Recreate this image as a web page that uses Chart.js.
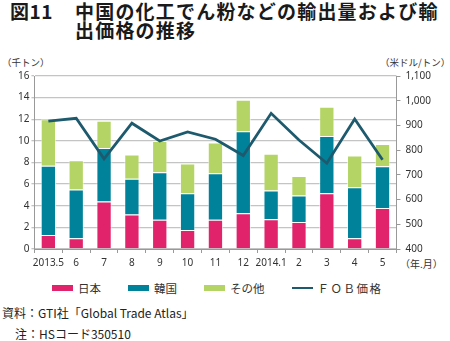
<!DOCTYPE html>
<html lang="ja">
<head>
<meta charset="utf-8">
<script src="https://cdn.jsdelivr.net/npm/chart.js@4.4.1/dist/chart.umd.min.js"></script>
<style>
  html, body { margin: 0; padding: 0; background: #fff; }
  body { width: 450px; height: 341px; position: relative; overflow: hidden;
         font-family: "Noto Sans CJK JP", "Noto Sans", sans-serif; color: #222; }
  .titulo { position: absolute; left: 10px; top: 1px; font-size: 19px; font-weight: bold;
            line-height: 19px; letter-spacing: 1.2px; color: #1a1a1a; }
  .titulo .num { position: absolute; left: 0; top: 0; white-space: nowrap; letter-spacing: 0.5px; }
  .titulo .txt { position: absolute; left: 65px; top: 0; width: 380px; }
  .eixo { position: absolute; font-size: 9.5px; color: #333; white-space: nowrap; }
  #legenda { position: absolute; left: 52px; top: 280px; display: flex; font-size: 11.5px; color: #333; }
  #legenda .item { display: flex; align-items: center; margin-right: 27px; }
  #legenda .sw { width: 21px; height: 6px; margin-right: 5px; }
  #legenda .ln { width: 21px; height: 2.5px; margin-right: 5px; }
  .nota { position: absolute; font-size: 12px; color: #222; white-space: nowrap; }
  #wrap { position: absolute; left: 0; top: 56px; width: 441px; height: 219px; }
</style>
</head>
<body>
<div class="titulo"><span class="num">図11</span><span class="txt">中国の化工でん粉などの輸出量および輸出価格の推移</span></div>
<div class="eixo" style="left:2px; top:55px;">（千トン）</div>
<div class="eixo" style="left:380px; top:55px;">（米ドル/トン）</div>
<div class="eixo" style="left:400px; top:256px; font-size:10px;">（年.月）</div>
<div id="wrap"><canvas id="grafico-exportacao"></canvas></div>
<div id="legenda"></div>
<div class="nota" style="left:2px; top:304px;">資料：GTI社「Global Trade Atlas」</div>
<div class="nota" style="left:15px; top:325px;">注：HSコード350510</div>

<script>
// dados (mil toneladas e US$/t)
const meses = ['2013.5', '6', '7', '8', '9', '10', '11', '12', '2014.1', '2', '3', '4', '5'];
const japao = [1.3, 1.0, 4.4, 3.2, 2.7, 1.75, 2.7, 3.3, 2.75, 2.5, 5.15, 1.0, 3.8];
const coreia = [6.4, 4.5, 4.95, 3.3, 4.4, 3.4, 4.3, 7.6, 2.65, 2.45, 5.3, 4.7, 3.85];
const outros = [4.3, 2.7, 2.5, 2.25, 2.9, 2.75, 2.85, 2.9, 3.4, 1.8, 2.7, 2.95, 2.05];
const precoFob = [917, 929, 765, 909, 837, 874, 844, 778, 949, 841, 747, 926, 761];

const cores = {
  japao: '#e0236b',
  coreia: '#00829a',
  outros: '#b4d566',
  fob: '#1e5a6e'
};

desenharGrafico();

function desenharGrafico() {
  const ctx = document.getElementById('grafico-exportacao');
  const fonteTick = { family: '"Noto Sans", sans-serif', size: 10 };

  const barra = (label, data, cor) => ({
    type: 'bar', label, data, backgroundColor: cor,
    borderColor: 'rgba(255,255,255,0.55)', borderWidth: 1,
    yAxisID: 'y', stack: 'total', order: 1,
    barPercentage: 0.55, categoryPercentage: 1
  });

  const chart = new Chart(ctx, {
    data: {
      labels: meses,
      datasets: [
        barra('日本', japao, cores.japao),
        barra('韓国', coreia, cores.coreia),
        barra('その他', outros, cores.outros),
        {
          type: 'line', label: 'ＦＯＢ価格', data: precoFob,
          borderColor: cores.fob, backgroundColor: cores.fob,
          borderWidth: 2.8, pointRadius: 0, tension: 0,
          yAxisID: 'y1', order: 0
        }
      ]
    },
    options: {
      responsive: true,
      maintainAspectRatio: false,
      animation: false,
      layout: { padding: { top: 20, left: 16, right: 5, bottom: 2 } },
      plugins: { legend: { display: false }, tooltip: { enabled: false } },
      scales: {
        x: {
          stacked: true,
          offset: true,
          grid: { offset: true, drawOnChartArea: false, drawTicks: true, tickLength: 4, color: '#999' },
          border: { color: '#999' },
          ticks: { font: fonteTick, color: '#333', padding: 4, maxRotation: 0, autoSkip: false }
        },
        y: {
          stacked: true,
          min: 0, max: 16,
          ticks: { stepSize: 2, font: fonteTick, color: '#333', padding: 2 },
          grid: { color: '#c4c4c4', lineWidth: 1.3, tickLength: 3 },
          border: { color: '#999' }
        },
        y1: {
          position: 'right',
          min: 400, max: 1100,
          ticks: { stepSize: 100, font: fonteTick, color: '#333', padding: 5 },
          grid: { drawOnChartArea: false, tickLength: 4, color: '#999' },
          border: { color: '#999' }
        }
      }
    }
  });

  montarLegenda(chart);
}

function montarLegenda(chart) {
  const box = document.getElementById('legenda');
  chart.data.datasets.forEach(ds => {
    const item = document.createElement('div');
    item.className = 'item';
    const marca = document.createElement('span');
    marca.className = ds.type === 'line' ? 'ln' : 'sw';
    marca.style.background = ds.type === 'line' ? ds.borderColor : ds.backgroundColor;
    const txt = document.createElement('span');
    txt.textContent = ds.label;
    if (ds.type === 'line') txt.style.letterSpacing = '1.5px';
    item.appendChild(marca);
    item.appendChild(txt);
    box.appendChild(item);
  });
}
</script>
</body>
</html>
